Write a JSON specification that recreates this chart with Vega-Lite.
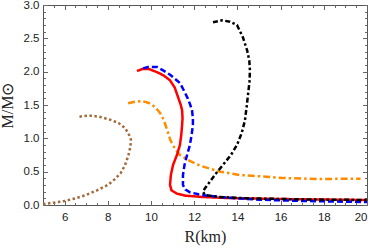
{
  "$schema": "https://vega.github.io/schema/vega-lite/v6.json",
  "width": 324,
  "height": 200,
  "autosize": {"type": "none"},
  "padding": {"left": 43, "top": 5, "right": 7, "bottom": 45},
  "config": {
    "view": {"stroke": "#555", "strokeWidth": 1},
    "axis": {"grid": false, "domain": false, "tickColor": "#666", "tickWidth": 1, "labelColor": "#222", "labelFont": "Liberation Sans", "labelFontSize": 11.5, "titleFont": "Liberation Serif", "titleFontSize": 16, "titleFontWeight": "normal", "titleColor": "#222"}
  },
  "data": {"values": [
    {"s":"A","i":0,"R":5.0,"M":0.015},{"s":"A","i":1,"R":5.5,"M":0.035},{"s":"A","i":2,"R":6.0,"M":0.06},{"s":"A","i":3,"R":6.5,"M":0.1},{"s":"A","i":4,"R":7.0,"M":0.15},{"s":"A","i":5,"R":7.5,"M":0.22},{"s":"A","i":6,"R":8.0,"M":0.3},{"s":"A","i":7,"R":8.3,"M":0.38},{"s":"A","i":8,"R":8.6,"M":0.48},{"s":"A","i":9,"R":8.8,"M":0.6},{"s":"A","i":10,"R":8.95,"M":0.74},{"s":"A","i":11,"R":9.05,"M":0.88},{"s":"A","i":12,"R":9.07,"M":0.98},{"s":"A","i":13,"R":8.95,"M":1.08},{"s":"A","i":14,"R":8.78,"M":1.16},{"s":"A","i":15,"R":8.5,"M":1.23},{"s":"A","i":16,"R":8.1,"M":1.28},{"s":"A","i":17,"R":7.6,"M":1.325},{"s":"A","i":18,"R":7.2,"M":1.34},{"s":"A","i":19,"R":6.9,"M":1.335},{"s":"A","i":20,"R":6.57,"M":1.32},
    {"s":"B","i":0,"R":8.94,"M":1.525},{"s":"B","i":1,"R":9.2,"M":1.545},{"s":"B","i":2,"R":9.58,"M":1.56},{"s":"B","i":3,"R":9.9,"M":1.53},{"s":"B","i":4,"R":10.19,"M":1.47},{"s":"B","i":5,"R":10.42,"M":1.38},{"s":"B","i":6,"R":10.6,"M":1.27},{"s":"B","i":7,"R":10.75,"M":1.12},{"s":"B","i":8,"R":10.9,"M":0.97},{"s":"B","i":9,"R":11.1,"M":0.85},{"s":"B","i":10,"R":11.34,"M":0.75},{"s":"B","i":11,"R":11.8,"M":0.66},{"s":"B","i":12,"R":12.27,"M":0.59},{"s":"B","i":13,"R":13.2,"M":0.5},{"s":"B","i":14,"R":14.1,"M":0.45},{"s":"B","i":15,"R":15.05,"M":0.43},{"s":"B","i":16,"R":16.1,"M":0.405},{"s":"B","i":17,"R":17.7,"M":0.39},{"s":"B","i":18,"R":19.7,"M":0.395},
    {"s":"C","i":0,"R":9.35,"M":2.01},{"s":"C","i":1,"R":9.6,"M":2.04},{"s":"C","i":2,"R":9.9,"M":2.04},{"s":"C","i":3,"R":10.3,"M":1.99},{"s":"C","i":4,"R":10.6,"M":1.94},{"s":"C","i":5,"R":10.88,"M":1.87},{"s":"C","i":6,"R":11.1,"M":1.76},{"s":"C","i":7,"R":11.25,"M":1.62},{"s":"C","i":8,"R":11.38,"M":1.5},{"s":"C","i":9,"R":11.44,"M":1.42},{"s":"C","i":10,"R":11.46,"M":1.3},{"s":"C","i":11,"R":11.44,"M":1.2},{"s":"C","i":12,"R":11.4,"M":1.05},{"s":"C","i":13,"R":11.34,"M":0.9},{"s":"C","i":14,"R":11.2,"M":0.75},{"s":"C","i":15,"R":11.02,"M":0.6},{"s":"C","i":16,"R":10.92,"M":0.45},{"s":"C","i":17,"R":10.88,"M":0.3},{"s":"C","i":18,"R":10.95,"M":0.22},{"s":"C","i":19,"R":11.2,"M":0.17},{"s":"C","i":20,"R":11.6,"M":0.14},{"s":"C","i":21,"R":12.4,"M":0.12},{"s":"C","i":22,"R":13.5,"M":0.105},{"s":"C","i":23,"R":15.0,"M":0.095},{"s":"C","i":24,"R":17.0,"M":0.085},{"s":"C","i":25,"R":20.0,"M":0.075},
    {"s":"D","i":0,"R":9.63,"M":2.05},{"s":"D","i":1,"R":9.86,"M":2.07},{"s":"D","i":2,"R":10.28,"M":2.07},{"s":"D","i":3,"R":10.56,"M":2.02},{"s":"D","i":4,"R":10.9,"M":1.95},{"s":"D","i":5,"R":11.34,"M":1.83},{"s":"D","i":6,"R":11.55,"M":1.7},{"s":"D","i":7,"R":11.7,"M":1.6},{"s":"D","i":8,"R":11.82,"M":1.5},{"s":"D","i":9,"R":11.9,"M":1.42},{"s":"D","i":10,"R":11.94,"M":1.3},{"s":"D","i":11,"R":11.94,"M":1.2},{"s":"D","i":12,"R":11.88,"M":1.05},{"s":"D","i":13,"R":11.8,"M":0.9},{"s":"D","i":14,"R":11.67,"M":0.75},{"s":"D","i":15,"R":11.55,"M":0.6},{"s":"D","i":16,"R":11.48,"M":0.45},{"s":"D","i":17,"R":11.48,"M":0.3},{"s":"D","i":18,"R":11.6,"M":0.23},{"s":"D","i":19,"R":11.8,"M":0.19},{"s":"D","i":20,"R":12.2,"M":0.16},{"s":"D","i":21,"R":12.6,"M":0.14},{"s":"D","i":22,"R":13.5,"M":0.11},{"s":"D","i":23,"R":15.0,"M":0.08},{"s":"D","i":24,"R":17.0,"M":0.06},{"s":"D","i":25,"R":20.0,"M":0.045},
    {"s":"E","i":0,"R":12.87,"M":2.74},{"s":"E","i":1,"R":13.29,"M":2.77},{"s":"E","i":2,"R":13.65,"M":2.75},{"s":"E","i":3,"R":13.98,"M":2.7},{"s":"E","i":4,"R":14.25,"M":2.52},{"s":"E","i":5,"R":14.45,"M":2.32},{"s":"E","i":6,"R":14.55,"M":2.17},{"s":"E","i":7,"R":14.58,"M":2.02},{"s":"E","i":8,"R":14.56,"M":1.85},{"s":"E","i":9,"R":14.5,"M":1.68},{"s":"E","i":10,"R":14.43,"M":1.48},{"s":"E","i":11,"R":14.35,"M":1.27},{"s":"E","i":12,"R":14.2,"M":1.08},{"s":"E","i":13,"R":13.98,"M":0.9},{"s":"E","i":14,"R":13.7,"M":0.75},{"s":"E","i":15,"R":13.33,"M":0.6},{"s":"E","i":16,"R":13.0,"M":0.47},{"s":"E","i":17,"R":12.73,"M":0.35},{"s":"E","i":18,"R":12.5,"M":0.25},{"s":"E","i":19,"R":12.4,"M":0.2},{"s":"E","i":20,"R":12.5,"M":0.15},{"s":"E","i":21,"R":13.2,"M":0.12},{"s":"E","i":22,"R":14.5,"M":0.1},{"s":"E","i":23,"R":16.0,"M":0.09},{"s":"E","i":24,"R":18.0,"M":0.08},{"s":"E","i":25,"R":20.0,"M":0.075}
  ]},
  "resolve": {"axis": {"x": "independent", "y": "independent"}},
  "layer": [
    {
      "mark": {"type": "line", "strokeWidth": 2.5, "interpolate": "linear"},
      "encoding": {
        "x": {"field": "R", "type": "quantitative", "scale": {"domain": [5, 20], "nice": false, "zero": false},
              "axis": {"orient": "bottom", "values": [6, 8, 10, 12, 14, 16, 18, 20], "ticks": false, "labelPadding": 6, "title": "R(km)", "titlePadding": 6}},
        "y": {"field": "M", "type": "quantitative", "scale": {"domain": [0, 3], "nice": false, "zero": false},
              "axis": {"orient": "left", "values": [0, 0.5, 1, 1.5, 2, 2.5, 3], "format": ".1f", "ticks": false, "labelPadding": 4, "title": "M/M⊙", "titlePadding": 8}},
        "color": {"field": "s", "type": "nominal", "legend": null, "scale": {"domain": ["A", "B", "C", "D", "E"], "range": ["#A36A3C", "#FF8C00", "#FF0000", "#0000FF", "#000000"]}},
        "strokeDash": {"field": "s", "type": "nominal", "legend": null, "scale": {"domain": ["A", "B", "C", "D", "E"], "range": [[2.5, 2.5], [7, 3, 2.5, 3], [1, 0], [6, 3], [5, 2.5, 2.5, 2.5]]}},
        "order": {"field": "i", "type": "quantitative"}
      }
    },
    {
      "mark": {"type": "point", "opacity": 0},
      "encoding": {
        "x": {"field": "R", "type": "quantitative", "axis": {"orient": "bottom", "values": [6, 8, 10, 12, 14, 16, 18, 20], "tickSize": -4.5, "labels": false, "title": null}},
        "y": {"field": "M", "type": "quantitative", "axis": {"orient": "left", "values": [0, 0.5, 1, 1.5, 2, 2.5, 3], "tickSize": -4.5, "labels": false, "title": null}}
      }
    },
    {
      "mark": {"type": "point", "opacity": 0},
      "encoding": {
        "x": {"field": "R", "type": "quantitative", "axis": {"orient": "bottom", "values": [5.5, 6.5, 7, 7.5, 8.5, 9, 9.5, 10.5, 11, 11.5, 12.5, 13, 13.5, 14.5, 15, 15.5, 16.5, 17, 17.5, 18.5, 19, 19.5], "tickSize": -2.5, "labels": false, "title": null}},
        "y": {"field": "M", "type": "quantitative", "axis": {"orient": "left", "values": [0.1, 0.2, 0.3, 0.4, 0.6, 0.7, 0.8, 0.9, 1.1, 1.2, 1.3, 1.4, 1.6, 1.7, 1.8, 1.9, 2.1, 2.2, 2.3, 2.4, 2.6, 2.7, 2.8, 2.9], "tickSize": -2.5, "labels": false, "title": null}}
      }
    },
    {
      "mark": {"type": "point", "opacity": 0},
      "encoding": {
        "x": {"field": "R", "type": "quantitative", "axis": {"orient": "top", "values": [6, 8, 10, 12, 14, 16, 18, 20], "tickSize": -4.5, "labels": false, "title": null}},
        "y": {"field": "M", "type": "quantitative", "axis": {"orient": "right", "values": [0, 0.5, 1, 1.5, 2, 2.5, 3], "tickSize": -4.5, "labels": false, "title": null}}
      }
    },
    {
      "mark": {"type": "point", "opacity": 0},
      "encoding": {
        "x": {"field": "R", "type": "quantitative", "axis": {"orient": "top", "values": [5.5, 6.5, 7, 7.5, 8.5, 9, 9.5, 10.5, 11, 11.5, 12.5, 13, 13.5, 14.5, 15, 15.5, 16.5, 17, 17.5, 18.5, 19, 19.5], "tickSize": -2.5, "labels": false, "title": null}},
        "y": {"field": "M", "type": "quantitative", "axis": {"orient": "right", "values": [0.1, 0.2, 0.3, 0.4, 0.6, 0.7, 0.8, 0.9, 1.1, 1.2, 1.3, 1.4, 1.6, 1.7, 1.8, 1.9, 2.1, 2.2, 2.3, 2.4, 2.6, 2.7, 2.8, 2.9], "tickSize": -2.5, "labels": false, "title": null}}
      }
    }
  ]
}
